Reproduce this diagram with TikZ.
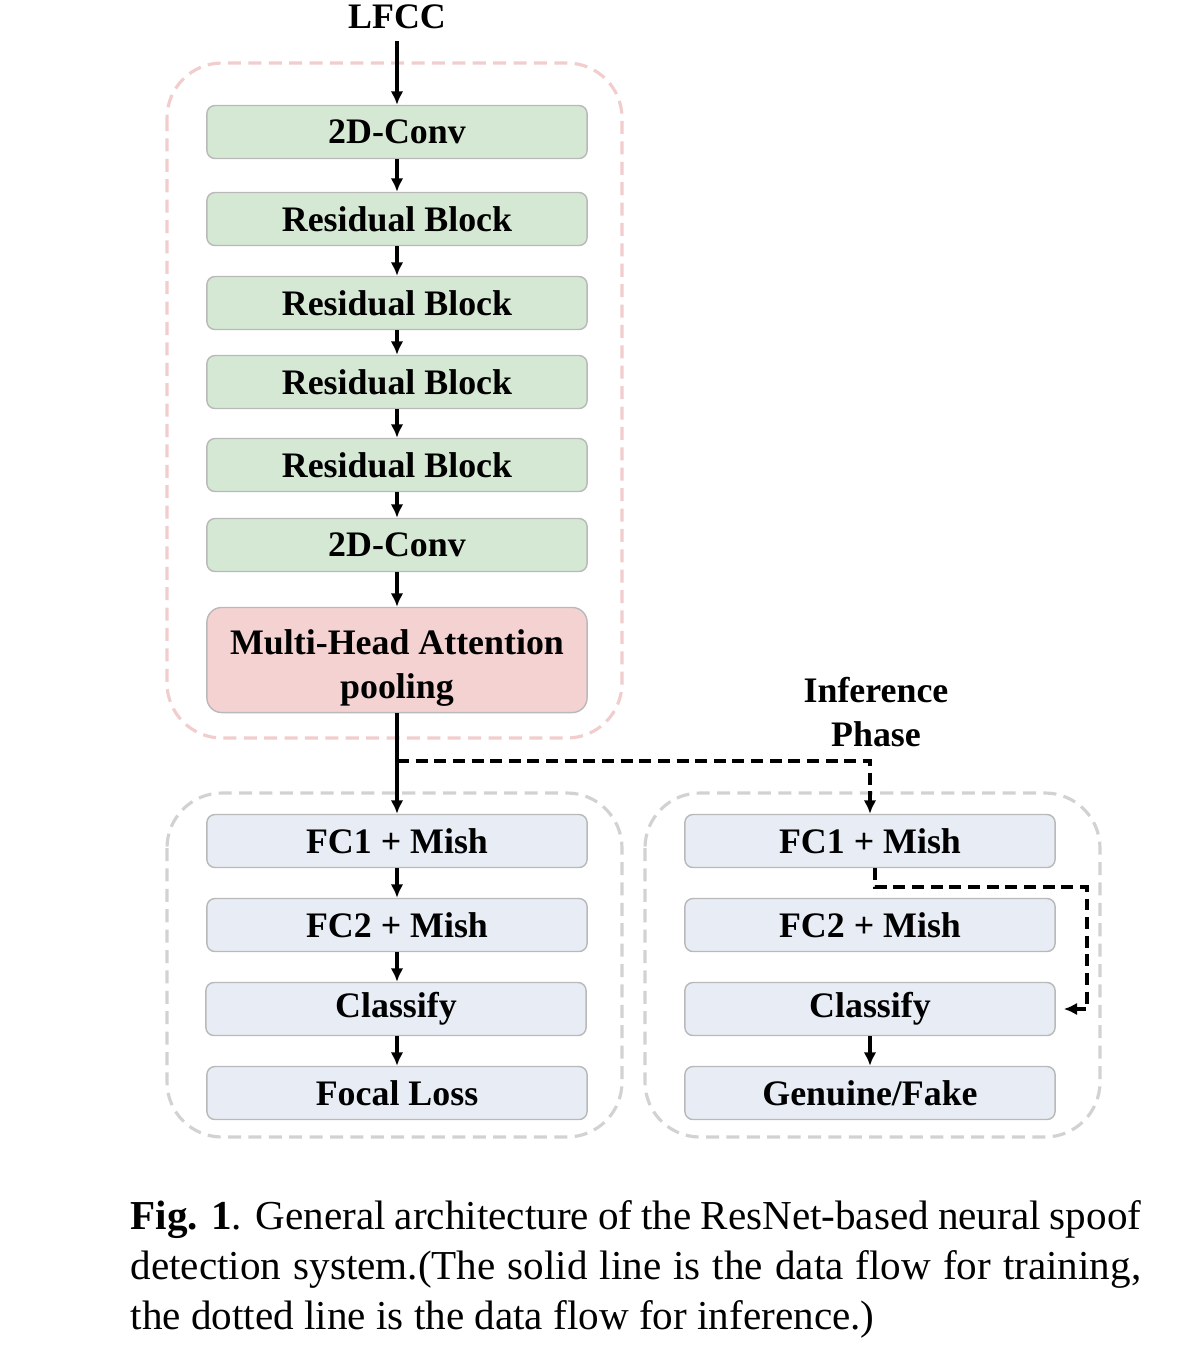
\documentclass[tikz,border=0pt]{standalone}
\usepackage{fontspec}
\setmainfont{Liberation Serif}
\usetikzlibrary{arrows.meta}

\definecolor{convgreen}{HTML}{D5E8D4}
\definecolor{poolpink}{HTML}{F5D2D2}
\definecolor{fcblue}{HTML}{E8ECF4}
\definecolor{framepink}{HTML}{F2CDCD}
\definecolor{framegray}{HTML}{D2D2D2}
\definecolor{edgegray}{HTML}{B9B9B9}

\tikzset{
    layer/.style={draw=edgegray, line width=0.4pt, rounded corners=2.3pt,
        minimum width=3.8cm, minimum height=0.53cm, inner sep=0pt,
        font=\fontsize{10.2}{12.5}\selectfont\bfseries},
    convlayer/.style={layer, fill=convgreen},
    fclayer/.style={layer, fill=fcblue},
    poollayer/.style={layer, fill=poolpink, rounded corners=4.2pt,
        minimum height=1.05cm, align=center},
    frame/.style={line width=0.9pt, rounded corners=0.55cm,
        dash pattern=on 3.7pt off 2.1pt},
    flow/.style={line width=0.9pt, -{Latex[length=3.8pt,width=3.6pt]}},
    inferflow/.style={flow, dash pattern=on 3.4pt off 1.9pt},
    label/.style={font=\fontsize{10.2}{12.5}\selectfont\bfseries, align=center}
}

\begin{document}
\begin{tikzpicture}[x=0.01cm, y=-0.01cm]

    \useasboundingbox (0,0) rectangle (1182,1353);

    % Frames
    \draw[frame, framepink] (167,63) rectangle (622,738);
    \draw[frame, framegray] (167,793) rectangle (622,1137);
    \draw[frame, framegray] (645,793) rectangle (1100,1137);

    % Encoder
    \node[label] (lfcc) at (397,17) {LFCC};
    \node[convlayer] (conv1) at (397,132) {2D-Conv};
    \node[convlayer] (res1) at (397,219) {Residual Block};
    \node[convlayer] (res2) at (397,303) {Residual Block};
    \node[convlayer] (res3) at (397,382) {Residual Block};
    \node[convlayer] (res4) at (397,465) {Residual Block};
    \node[convlayer] (conv2) at (397,545) {2D-Conv};
    \node[poollayer] (pool) at (397,660) {\rule{0pt}{11.5pt}Multi-Head Attention\\pooling};

    % Training branch
    \node[fclayer] (fc1l) at (397,841) {FC1 + Mish};
    \node[fclayer] (fc2l) at (397,925) {FC2 + Mish};
    \node[fclayer] (clsl) at (396,1009) {Classify};
    \node[fclayer] (loss) at (397,1093) {Focal Loss};

    % Inference branch
    \node[label] (phase) at (876,712) {Inference\\Phase};
    \node[fclayer, minimum width=3.7cm] (fc1r) at (870,841) {FC1 + Mish};
    \node[fclayer, minimum width=3.7cm] (fc2r) at (870,925) {FC2 + Mish};
    \node[fclayer, minimum width=3.7cm] (clsr) at (870,1009) {Classify};
    \node[fclayer, minimum width=3.7cm] (out) at (870,1093) {Genuine/Fake};

    \coordinate (split) at (397,761);
    \coordinate (turn) at (1087,887);

    % Solid flow
    \draw[flow] (lfcc) -- (conv1);
    \draw[flow] (conv1) -- (res1);
    \draw[flow] (res1) -- (res2);
    \draw[flow] (res2) -- (res3);
    \draw[flow] (res3) -- (res4);
    \draw[flow] (res4) -- (conv2);
    \draw[flow] (conv2) -- (pool);
    \draw[flow] (pool) -- (fc1l);
    \draw[flow] (fc1l) -- (fc2l);
    \draw[flow] (fc2l) -- (fc2l |- clsl.north);
    \draw[flow] (clsl.south -| loss) -- (loss);
    \draw[flow] (clsr) -- (out);

    % Dashed flow
    \draw[inferflow] (split) -| (fc1r);
    \draw[inferflow] ([xshift=0.05cm]fc1r.south) |- (turn) |- ([xshift=0.08cm]clsr.east);

    % Caption
    \node[anchor=north west, inner sep=0pt, text width=10.1cm, align=justify,
        font=\fontsize{11.7}{14.2}\selectfont] (caption) at (130,1200)
        {\textbf{Fig. 1}. General architecture of the ResNet-based neural spoof\linebreak
        detection system.(The solid line is the data flow for training,\linebreak
        the dotted line is the data flow for inference.)};

\end{tikzpicture}
\end{document}
